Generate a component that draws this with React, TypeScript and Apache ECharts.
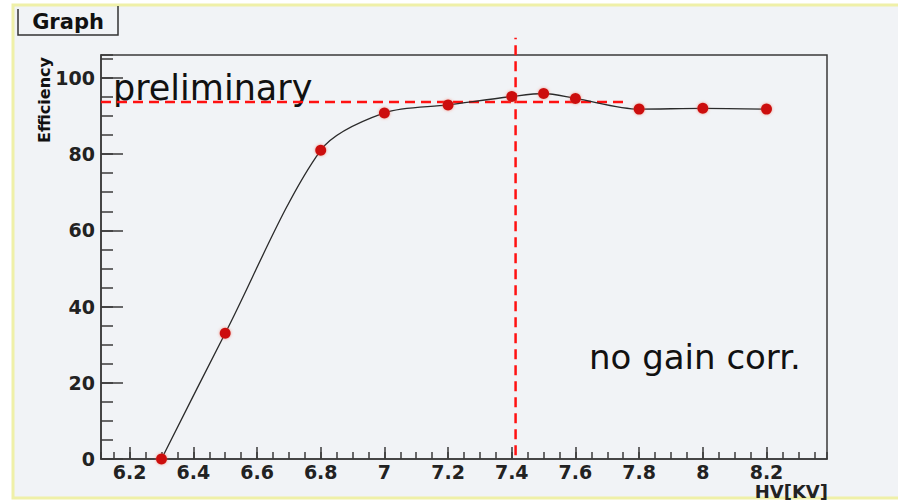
import React, { useEffect, useRef } from "react";
import * as echarts from "echarts";

// High voltage [kV]
const hvValues = [6.3, 6.5, 6.8, 7.0, 7.2, 7.4, 7.5, 7.6, 7.8, 8.0, 8.2];
// Efficiency [%]
const efficiencyValues = [0, 33, 81, 90.8, 92.9, 95.1, 95.9, 94.6, 91.8, 92.0, 91.8];

// Dashed reference lines
const plateauX = [6.11, 7.765];
const plateauY = [93.7, 93.7];
const workingPointX = [7.412, 7.412];
const workingPointY = [1, 110.5];

const xRange = [6.11, 8.39];
const yRange = [0, 106];
const yMajorStep = 20;
const yMinorStep = 5;

const FONT = "DejaVu Sans";

export default function App() {
  const ref = useRef<HTMLDivElement>(null);

  useEffect(() => {
    if (!ref.current) return;
    const chart = echarts.init(ref.current, null, { renderer: "svg" });

    const axisColor = "#3a3a3a";
    const labelStyle = {
      fontFamily: FONT,
      fontWeight: "bold" as const,
      fontSize: 19,
      color: "#222",
    };

    const option: any = {
      animation: false,
      backgroundColor: "#ffffff",
      grid: {
        left: 101,
        right: 71,
        top: 55,
        bottom: 45,
        show: true,
        borderColor: axisColor,
        borderWidth: 1.5,
        backgroundColor: "transparent",
      },
      xAxis: [
        {
          type: "value",
          min: xRange[0],
          max: xRange[1],
          splitNumber: 11,
          axisLine: { show: true, lineStyle: { color: axisColor, width: 1.5 } },
          axisTick: { show: true, inside: true, length: 12, lineStyle: { color: axisColor, width: 1.5 } },
          axisLabel: { ...labelStyle, margin: 3, showMinLabel: false, showMaxLabel: false },
          splitLine: { show: false },
        },
        {
          type: "value",
          min: xRange[0],
          max: xRange[1],
          splitNumber: 46,
          position: "bottom",
          axisLine: { show: false },
          axisTick: { show: true, inside: true, length: 7, lineStyle: { color: axisColor, width: 1.5 } },
          axisLabel: { show: false },
          splitLine: { show: false },
        },
      ],
      yAxis: [
        {
          type: "value",
          min: yRange[0],
          max: yRange[1],
          interval: yMajorStep,
          position: "left",
          axisLine: { show: true, lineStyle: { color: axisColor, width: 1.5 } },
          axisTick: { show: true, inside: true, length: 22, lineStyle: { color: axisColor, width: 1.5 } },
          axisLabel: { ...labelStyle, margin: 6, showMaxLabel: false },
          splitLine: { show: false },
        },
        {
          type: "value",
          min: yRange[0],
          max: yRange[1],
          interval: yMinorStep,
          position: "left",
          offset: 0,
          axisLine: { show: false },
          axisTick: { show: true, inside: true, length: 12, lineStyle: { color: axisColor, width: 1.5 } },
          axisLabel: { show: false },
          splitLine: { show: false },
        },
      ],
      graphic: [
        {
          type: "rect",
          z: -10,
          shape: { x: 13, y: 5, width: 900, height: 493 },
          style: { fill: "#f1f3f6", stroke: "#eff0a8", lineWidth: 3 },
        },
        {
          type: "polyline",
          z: -5,
          shape: { points: [[18, 9], [18, 35], [118, 35], [118, 6]] },
          style: { fill: "none", stroke: "#333", lineWidth: 1.5 },
        },
        {
          type: "text",
          x: 68,
          y: 22,
          style: {
            text: "Graph",
            fontFamily: FONT,
            fontWeight: "bold",
            fontSize: 21,
            fill: "#111",
            align: "center",
            verticalAlign: "middle",
          },
        },
        {
          type: "text",
          x: 44,
          y: 57,
          rotation: Math.PI / 2,
          style: {
            text: "Efficiency",
            fontFamily: FONT,
            fontWeight: "bold",
            fontSize: 16,
            fill: "#111",
            align: "right",
            verticalAlign: "middle",
          },
        },
        {
          type: "text",
          x: 828,
          y: 491,
          style: {
            text: "HV[KV]",
            fontFamily: FONT,
            fontWeight: "bold",
            fontSize: 18,
            fill: "#222",
            align: "right",
            verticalAlign: "middle",
          },
        },
        {
          type: "text",
          x: 113,
          y: 88,
          style: {
            text: "preliminary",
            fontFamily: FONT,
            fontSize: 35,
            fill: "#111",
            align: "left",
            verticalAlign: "middle",
          },
        },
        {
          type: "text",
          x: 589,
          y: 357,
          style: {
            text: "no gain corr.",
            fontFamily: FONT,
            fontSize: 34,
            fill: "#111",
            align: "left",
            verticalAlign: "middle",
          },
        },
      ],
      series: [
        {
          type: "line",
          xAxisIndex: 0,
          yAxisIndex: 0,
          data: plateauX.map((x, i) => [x, plateauY[i]]),
          symbol: "none",
          clip: false,
          z: 3,
          lineStyle: { color: "#ff1111", width: 2.5, type: [10, 6] },
        },
        {
          type: "line",
          xAxisIndex: 0,
          yAxisIndex: 0,
          data: workingPointX.map((x, i) => [x, workingPointY[i]]),
          symbol: "none",
          clip: false,
          z: 3,
          lineStyle: { color: "#ff1111", width: 2.5, type: [10, 6] },
        },
        {
          type: "line",
          xAxisIndex: 0,
          yAxisIndex: 0,
          data: hvValues.map((x, i) => [x, efficiencyValues[i]]),
          smooth: 0.3,
          clip: false,
          z: 4,
          symbol: "circle",
          symbolSize: 11,
          showSymbol: true,
          lineStyle: { color: "#2a2a2a", width: 1.3 },
          itemStyle: { color: "#cc1111", shadowBlur: 3, shadowColor: "rgba(240,90,70,0.6)" },
        },
      ],
    };

    chart.setOption(option);
    return () => chart.dispose();
  }, []);

  return (
    <div
      ref={ref}
      style={{ position: "fixed", left: 0, top: 0, width: 898, height: 504 }}
    />
  );
}
